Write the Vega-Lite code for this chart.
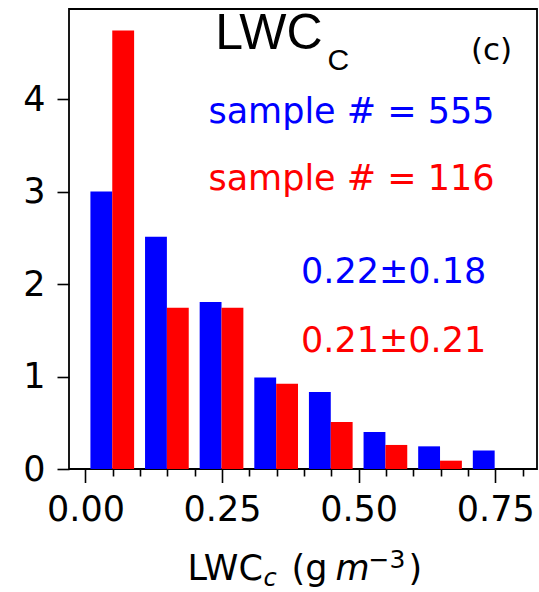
{
  "$schema": "https://vega.github.io/schema/vega-lite/v6.json",
  "width": 468,
  "height": 460,
  "autosize": {"type": "none"},
  "padding": {"left": 69, "top": 9, "right": 2, "bottom": 123},
  "background": "white",
  "config": {
    "font": "DejaVu Sans",
    "view": {"stroke": "black", "strokeWidth": 1.8},
    "axis": {"domain": false, "grid": false, "tickColor": "black", "tickWidth": 1.6, "labelColor": "black", "labelFont": "DejaVu Sans"}
  },
  "datasets": {
    "hist": [
      {"bin": 0.0, "grp": "set1", "density": 3.0},
      {"bin": 0.0, "grp": "set2", "density": 4.74},
      {"bin": 0.1, "grp": "set1", "density": 2.51},
      {"bin": 0.1, "grp": "set2", "density": 1.744},
      {"bin": 0.2, "grp": "set1", "density": 1.805},
      {"bin": 0.2, "grp": "set2", "density": 1.744},
      {"bin": 0.3, "grp": "set1", "density": 0.99},
      {"bin": 0.3, "grp": "set2", "density": 0.922},
      {"bin": 0.4, "grp": "set1", "density": 0.832},
      {"bin": 0.4, "grp": "set2", "density": 0.508},
      {"bin": 0.5, "grp": "set1", "density": 0.40},
      {"bin": 0.5, "grp": "set2", "density": 0.26},
      {"bin": 0.6, "grp": "set1", "density": 0.245},
      {"bin": 0.6, "grp": "set2", "density": 0.09},
      {"bin": 0.7, "grp": "set1", "density": 0.20},
      {"bin": 0.7, "grp": "set2", "density": 0.0}
    ],
    "stats": [
      {"text": "sample # = 555", "grp": "set1", "x": 0.7487, "y": 3.744},
      {"text": "sample # = 116", "grp": "set2", "x": 0.7487, "y": 3.02},
      {"text": "0.22±0.18", "grp": "set1", "x": 0.7335, "y": 2.014},
      {"text": "0.21±0.21", "grp": "set2", "x": 0.7335, "y": 1.268}
    ],
    "minor": [
      {"x": 0.05}, {"x": 0.1}, {"x": 0.15}, {"x": 0.2}, {"x": 0.3}, {"x": 0.35}, {"x": 0.4}, {"x": 0.45}, {"x": 0.55}, {"x": 0.6}, {"x": 0.65}, {"x": 0.7}, {"x": 0.8}
    ]
  },
  "layer": [
    {
      "data": {"name": "hist"},
      "transform": [
        {"calculate": "datum.bin + (datum.grp == 'set1' ? 0.009 : 0.049)", "as": "x0"},
        {"calculate": "datum.x0 + 0.04", "as": "x1"}
      ],
      "mark": {"type": "bar", "clip": true},
      "encoding": {
        "x": {"field": "x0", "type": "quantitative",
          "scale": {"domain": [-0.0302, 0.8265], "nice": false, "zero": false},
          "axis": {"values": [0, 0.25, 0.5, 0.75], "format": ".2f", "tickSize": 13.5, "labelFontSize": 35, "labelPadding": 10, "labelOverlap": false, "title": null, "orient": "bottom"}},
        "x2": {"field": "x1"},
        "y": {"field": "density", "type": "quantitative",
          "scale": {"domain": [0, 4.973], "nice": false},
          "axis": {"values": [0, 1, 2, 3, 4], "format": "d", "tickSize": 12, "labelFontSize": 35, "labelPadding": 12, "title": null}},
        "y2": {"datum": 0},
        "color": {"field": "grp", "type": "nominal", "scale": {"domain": ["set1", "set2"], "range": ["#0000ff", "#ff0000"]}, "legend": null}
      }
    },
    {
      "data": {"name": "minor"},
      "mark": {"type": "point", "opacity": 0},
      "encoding": {
        "x": {"field": "x", "type": "quantitative",
          "axis": {"values": [0.05, 0.1, 0.15, 0.2, 0.3, 0.35, 0.4, 0.45, 0.55, 0.6, 0.65, 0.7, 0.8], "tickSize": 7, "labels": false, "title": null, "orient": "bottom"}},
        "y": {"datum": 0}
      }
    },
    {
      "data": {"name": "stats"},
      "mark": {"type": "text", "align": "right", "baseline": "alphabetic", "fontSize": 35},
      "encoding": {
        "x": {"field": "x", "type": "quantitative", "axis": null},
        "y": {"field": "y", "type": "quantitative"},
        "text": {"field": "text"},
        "color": {"field": "grp", "type": "nominal", "legend": null}
      }
    },
    {
      "data": {"values": [{"text": "LWC", "x": 0.2374, "y": 4.541}]},
      "mark": {"type": "text", "align": "left", "baseline": "alphabetic", "font": "Liberation Sans", "fontSize": 50, "color": "black"},
      "encoding": {"x": {"field": "x", "type": "quantitative", "axis": null}, "y": {"field": "y", "type": "quantitative"}, "text": {"field": "text"}}
    },
    {
      "data": {"values": [{"text": "C", "x": 0.443, "y": 4.317}]},
      "mark": {"type": "text", "align": "left", "baseline": "alphabetic", "font": "Liberation Sans", "fontSize": 30, "color": "black"},
      "encoding": {"x": {"field": "x", "type": "quantitative", "axis": null}, "y": {"field": "y", "type": "quantitative"}, "text": {"field": "text"}}
    },
    {
      "data": {"values": [{"text": "(c)", "x": 0.781, "y": 4.42}]},
      "mark": {"type": "text", "align": "right", "baseline": "alphabetic", "fontSize": 31, "color": "black"},
      "encoding": {"x": {"field": "x", "type": "quantitative", "axis": null}, "y": {"field": "y", "type": "quantitative"}, "text": {"field": "text"}}
    },
    {
      "data": {"values": [{"text": "LWC", "x": 0.1867, "y": -1.197}, {"text": "(g", "x": 0.3771, "y": -1.197}, {"text": ")", "x": 0.5913, "y": -1.197}]},
      "mark": {"type": "text", "align": "left", "baseline": "alphabetic", "fontSize": 35, "color": "black"},
      "encoding": {"x": {"field": "x", "type": "quantitative", "axis": null}, "y": {"field": "y", "type": "quantitative"}, "text": {"field": "text"}}
    },
    {
      "data": {"values": [{"text": "m", "x": 0.4576, "y": -1.197}]},
      "mark": {"type": "text", "align": "left", "baseline": "alphabetic", "fontSize": 35, "fontStyle": "italic", "color": "black"},
      "encoding": {"x": {"field": "x", "type": "quantitative", "axis": null}, "y": {"field": "y", "type": "quantitative"}, "text": {"field": "text"}}
    },
    {
      "data": {"values": [{"text": "c", "x": 0.326, "y": -1.26}]},
      "mark": {"type": "text", "align": "left", "baseline": "alphabetic", "fontSize": 24, "fontStyle": "italic", "color": "black"},
      "encoding": {"x": {"field": "x", "type": "quantitative", "axis": null}, "y": {"field": "y", "type": "quantitative"}, "text": {"field": "text"}}
    },
    {
      "data": {"values": [{"text": "−3", "x": 0.518, "y": -1.067}]},
      "mark": {"type": "text", "align": "left", "baseline": "alphabetic", "font": "DejaVu Sans", "fontSize": 25, "color": "black"},
      "encoding": {"x": {"field": "x", "type": "quantitative", "axis": null}, "y": {"field": "y", "type": "quantitative"}, "text": {"field": "text"}}
    }
  ],
  "resolve": {"axis": {"x": "independent"}}
}
